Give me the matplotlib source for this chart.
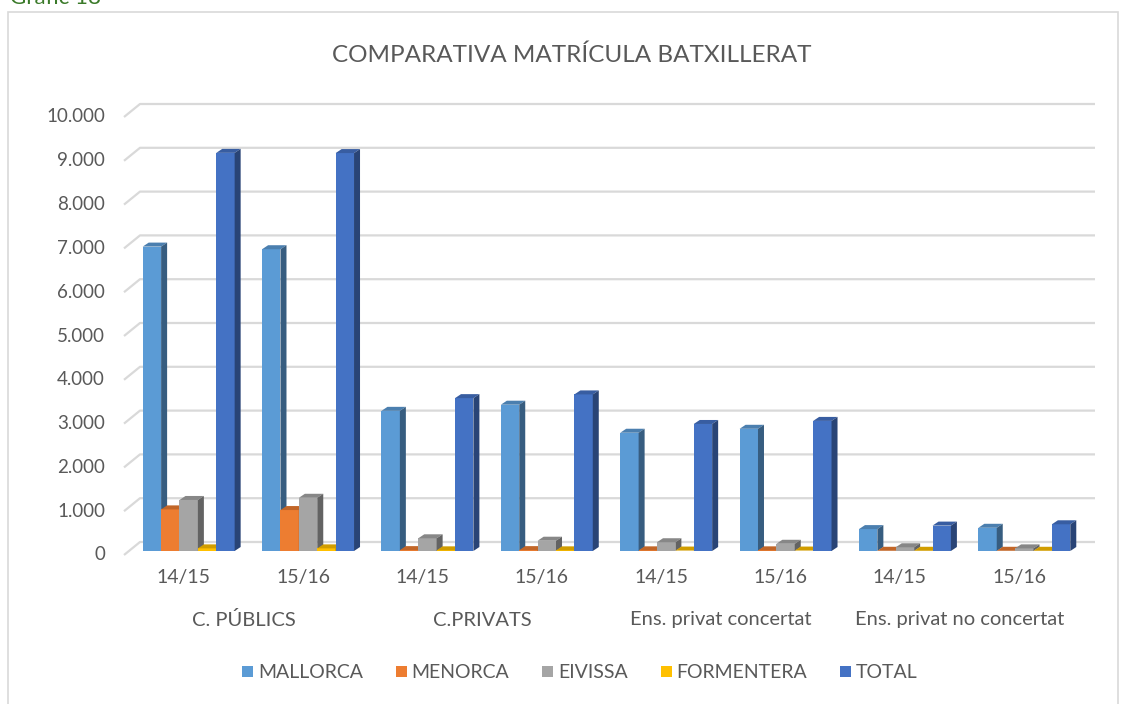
import numpy as np
import matplotlib
matplotlib.use("Agg")
import matplotlib.pyplot as plt
from matplotlib.patches import Polygon, Patch, Rectangle
from matplotlib.colors import to_rgb
import matplotlib.transforms as mtransforms

# ---- data ----
groups = ["C. PÚBLICS", "C.PRIVATS", "Ens. privat concertat", "Ens. privat no concertat"]
years = ["14/15", "15/16"]
series = ["MALLORCA", "MENORCA", "EIVISSA", "FORMENTERA", "TOTAL"]
colors = ["#5B9BD5", "#ED7D31", "#A5A5A5", "#FFC000", "#4472C4"]

mallorca   = [6950, 6890, 3200, 3340, 2700, 2790, 500, 530]
menorca    = [950, 935, 20, 20, 15, 15, 5, 5]
eivissa    = [1165, 1215, 290, 235, 200, 165, 85, 60]
formentera = [60, 60, 15, 15, 10, 10, 5, 5]
total      = [9090, 9085, 3490, 3575, 2900, 2970, 580, 610]
values = [mallorca, menorca, eivissa, formentera, total]

yticks = list(range(0, 10001, 1000))
ytick_labels = ["0"] + [f"{v // 1000}.000" for v in yticks[1:]]

TXT = "#595959"
FONT = "Lato"
plt.rcParams['font.family'] = [FONT, 'DejaVu Sans']

W, H = 1131, 704
fig = plt.figure(figsize=(W / 100, H / 100), dpi=100)
ax = fig.add_axes([124 / W, 149 / H, 955 / W, 438 / H])
ax.set_xlim(0, 8)
ax.set_ylim(0, 10000)
ax.axis("off")

# pixels -> data units
px_x = 8 / 955.0
px_y = 10000 / 438.0

def shade(c, f):
    r, g, b = to_rgb(c)
    return (r * f, g * f, b * f)

# back wall gridlines (offset into depth)
wall_dx, wall_dy = 16 * px_x, 13 * px_y
for v in yticks:
    ax.plot([0, wall_dx, 8 + wall_dx], [v, v + wall_dy, v + wall_dy],
            color="#d9d9d9", lw=1.6, clip_on=False, zorder=1, solid_capstyle="butt")

# y tick labels
for v, lab in zip(yticks, ytick_labels):
    ax.text(-19 * px_x, v, lab, ha="right", va="center", fontsize=13.5,
            color=TXT, clip_on=False)

# 3d-like bars
plane_dx, plane_dy = 5 * px_x, 4 * px_y   # bar front plane
bar_dx, bar_dy = 6 * px_x, 4 * px_y       # bar depth
bw = 0.154
nser = len(series)
z = 2
for i in range(8):
    left0 = i + 0.5 - nser * bw / 2 + plane_dx
    for j in range(nser):
        h = values[j][i]
        x0 = left0 + j * bw
        y0 = plane_dy
        c = colors[j]
        ax.add_patch(Rectangle((x0, y0), bw, h, facecolor=c, edgecolor="none",
                               zorder=z, clip_on=False))
        # top face
        ax.add_patch(Polygon([(x0, y0 + h), (x0 + bw, y0 + h),
                              (x0 + bw + bar_dx, y0 + h + bar_dy),
                              (x0 + bar_dx, y0 + h + bar_dy)],
                             closed=True, facecolor=shade(c, 0.82), edgecolor="none",
                             zorder=z, clip_on=False))
        # side face
        ax.add_patch(Polygon([(x0 + bw, y0), (x0 + bw + bar_dx, y0 + bar_dy),
                              (x0 + bw + bar_dx, y0 + h + bar_dy), (x0 + bw, y0 + h)],
                             closed=True, facecolor=shade(c, 0.6), edgecolor="none",
                             zorder=z, clip_on=False))
        z += 1

# category labels
tr = mtransforms.blended_transform_factory(ax.transData, fig.transFigure)
for i in range(8):
    ax.text(i + 0.5, 1 - 578 / H, years[i % 2], transform=tr, ha="center", va="center",
            fontsize=14, color=TXT)
for g, name in enumerate(groups):
    ax.text(2 * g + 1, 1 - 620 / H, name, transform=tr, ha="center", va="center",
            fontsize=14.5, color=TXT)

# title
fig.text(572 / W, 1 - 55 / H, "COMPARATIVA MATRÍCULA BATXILLERAT", ha="center",
         va="center", fontsize=17.5, color=TXT)

# outer frame and cut-off caption
fig.add_artist(Rectangle((8 / W, -0.01), (1118 - 8) / W, 1 - 12 / H + 0.01,
                         transform=fig.transFigure, facecolor="none",
                         edgecolor="#d9d9d9", lw=1.2))
fig.text(10 / W, 1 - 4 / H, "Gràfic 18", ha="left", va="baseline", fontsize=16,
         color="#3b7a2a")

# legend
handles = [Patch(facecolor=c, edgecolor="none", label=s) for s, c in zip(series, colors)]
leg = fig.legend(handles=handles, loc="center", bbox_to_anchor=(580 / W, 1 - 673 / H),
                 ncol=5, frameon=False, fontsize=14, handlelength=0.55, handleheight=0.55,
                 handletextpad=0.25, columnspacing=1.7)
for t in leg.get_texts():
    t.set_color(TXT)

fig.savefig("out.png", dpi=100)
